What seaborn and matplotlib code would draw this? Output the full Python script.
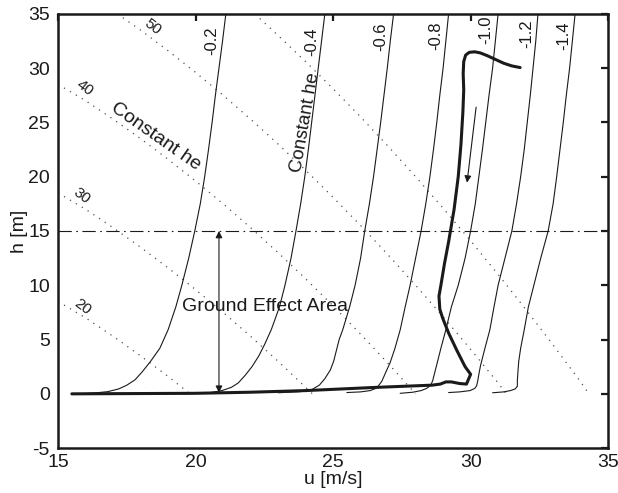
import numpy as np
import pandas as pd
import matplotlib
matplotlib.use('Agg')
import matplotlib.pyplot as plt
import seaborn as sns

sns.set_theme(style="white")
plt.rcParams['font.family'] = ['Liberation Sans', 'DejaVu Sans']
plt.rcParams['axes.unicode_minus'] = False
plt.rcParams['text.color'] = 'k'
plt.rcParams['axes.labelcolor'] = 'k'

# ------------------------------------------------------------
# DATA
# ------------------------------------------------------------
# heights used by the thin curves (bottom part differs per curve)
h_upper = [5.9, 8.0, 10.0, 12.5, 15.0, 17.5, 20.0, 22.5, 25.0, 27.5, 30.0, 32.5, 35.0]

curve_labels = ['-0.2', '-0.4', '-0.6', '-0.8', '-1.0', '-1.2', '-1.4']
curve_u = [
    [15.8, 16.4, 16.8, 17.2, 17.5, 17.8, 18.05, 18.35, 18.7,
     19.0, 19.28, 19.5, 19.75, 19.97, 20.17, 20.33, 20.47, 20.6, 20.72, 20.85, 20.98, 21.1],
    [19.5, 20.5, 20.96, 21.3, 21.55, 21.8, 22.05, 22.3, 22.5,
     22.75, 23.05, 23.25, 23.47, 23.65, 23.82, 23.97, 24.1, 24.22, 24.34, 24.46, 24.58, 24.7],
    [23.0, 23.8, 24.2, 24.5, 24.7, 24.9, 25.02, 25.12, 25.22,
     25.35, 25.6, 25.8, 26.0, 26.15, 26.32, 26.47, 26.6, 26.73, 26.85, 26.97, 27.08, 27.2],
    [25.5, 26.0, 26.35, 26.55, 26.65, 26.77, 26.9, 27.07, 27.25,
     27.44, 27.62, 27.8, 28.0, 28.2, 28.37, 28.52, 28.65, 28.77, 28.88, 29.0, 29.1, 29.2],
    [27.44, 27.9, 28.2, 28.4, 28.55, 28.62, 28.7, 28.8, 28.92,
     29.1, 29.3, 29.55, 29.8, 30.0, 30.17, 30.3, 30.43, 30.55, 30.67, 30.8, 30.9, 31.0],
    [29.2, 29.6, 29.98, 30.15, 30.22, 30.26, 30.3, 30.36, 30.5,
     30.7, 30.85, 31.0, 31.25, 31.5, 31.67, 31.82, 31.95, 32.06, 32.17, 32.27, 32.37, 32.45],
    [30.8, 31.2, 31.45, 31.62, 31.7, 31.7, 31.72, 31.75, 31.82,
     31.95, 32.1, 32.3, 32.55, 32.82, 33.0, 33.13, 33.25, 33.37, 33.48, 33.6, 33.7, 33.8],
]
curve_h_lower = [
    [0.0, 0.1, 0.2, 0.45, 0.8, 1.3, 2.0, 2.95, 4.2],
    [0.0, 0.1, 0.3, 0.6, 1.0, 1.7, 2.5, 3.5, 4.5],
    [0.1, 0.2, 0.35, 0.8, 1.4, 2.2, 3.0, 4.0, 5.0],
    [0.12, 0.18, 0.3, 0.5, 0.75, 1.15, 1.9, 2.85, 4.2],
    [0.05, 0.15, 0.3, 0.5, 0.8, 1.2, 2.0, 3.0, 4.2],
    [0.12, 0.18, 0.3, 0.5, 0.75, 1.2, 1.8, 2.6, 4.0],
    [0.1, 0.18, 0.3, 0.45, 0.7, 1.2, 2.0, 3.0, 4.2],
]
curve_label_u = [20.6, 24.24, 26.75, 28.75, 30.56, 32.05, 33.4]
curve_label_h = [32.5, 32.4, 32.9, 33.0, 33.5, 33.2, 33.0]

# dotted lines of constant he
he_values = [20, 30, 40, 50, 60]
he_u = [
    [15, 16, 17, 18, 19, 19.8],
    [15, 16, 17, 18, 19, 20, 21, 22, 23, 24.25],
    [15, 16, 17, 18, 19, 20, 21, 22, 23, 24, 25, 26, 27, 28.0],
    [17.15, 18, 19, 20, 21, 22, 23, 24, 25, 26, 27, 28, 29, 30, 31, 31.3],
    [22.15, 23, 24, 25, 26, 27, 28, 29, 30, 31, 32, 33, 34, 34.3],
]
he_h = [
    [8.5, 7.0, 5.3, 3.5, 1.6, 0.0],
    [18.5, 17.0, 15.3, 13.5, 11.6, 9.6, 7.5, 5.3, 3.0, 0.0],
    [28.5, 27.0, 25.3, 23.5, 21.6, 19.6, 17.5, 15.3, 13.0, 10.6, 8.1, 5.5, 2.8, 0.0],
    [35.0, 33.5, 31.6, 29.6, 27.5, 25.3, 23.0, 20.6, 18.1, 15.5, 12.8, 10.0, 7.1, 4.1, 1.0, 0.0],
    [35.0, 33.0, 30.6, 28.1, 25.5, 22.8, 20.0, 17.1, 14.1, 11.0, 7.8, 4.5, 1.1, 0.0],
]
he_label_text = ['50', '40', '30', '20']
he_label_u = [18.45, 15.98, 15.87, 15.9]
he_label_h = [33.8, 28.2, 18.2, 8.0]

# thick trajectory, in time order
traj_u = [31.8, 31.5, 31.2, 30.9, 30.6, 30.35, 30.15, 29.95, 29.82, 29.75, 29.73,
          29.75, 29.72, 29.65, 29.55, 29.4, 29.2, 29.05, 28.92, 28.85, 28.88, 28.98,
          29.2, 29.5, 29.8, 30.0, 29.85, 29.6, 29.3, 29.1, 28.9, 28.6, 26.6, 24.0,
          22.0, 20.0, 15.5]
traj_h = [30.05, 30.2, 30.45, 30.8, 31.15, 31.4, 31.5, 31.45, 31.2, 30.6, 29.5,
          28.0, 26.0, 23.0, 20.0, 17.0, 14.0, 12.0, 10.0, 9.0, 7.8, 7.0,
          5.6, 4.0, 2.5, 1.8, 0.9, 0.95, 1.1, 1.1, 0.9, 0.8, 0.6, 0.3,
          0.15, 0.05, 0.0]

ground_h = 15
ground_arrow_u = 20.85

# ------------------------------------------------------------
# PLOT
# ------------------------------------------------------------
fig, ax = plt.subplots(figsize=(6.18, 4.93), dpi=100)
fig.subplots_adjust(left=0.094, right=0.984, top=0.972, bottom=0.091)

for u, h in zip(he_u, he_h):
    sns.lineplot(x=u, y=h, sort=False, estimator=None, color='0.3',
                 linewidth=0.9, linestyle=(0, (1, 4.5)), ax=ax)

for u, h_low in zip(curve_u, curve_h_lower):
    sns.lineplot(x=u, y=h_low + h_upper, sort=False, estimator=None, color='k',
                 linewidth=0.8, ax=ax)

sns.lineplot(x=traj_u, y=traj_h, sort=False, estimator=None, color='k',
             linewidth=2.2, ax=ax)

ax.axhline(ground_h, color='k', linewidth=0.8, linestyle=(0, (12, 4, 1.5, 4)))

# curve labels
for lab, u, h in zip(curve_labels, curve_label_u, curve_label_h):
    ax.text(u, h, lab, rotation=90, ha='center', va='center', fontsize=12)

# he labels
for lab, u, h in zip(he_label_text, he_label_u, he_label_h):
    ax.text(u, h, lab, rotation=-37, ha='center', va='center', fontsize=11,
            rotation_mode='anchor')

ax.text(18.56, 23.7, 'Constant he', rotation=-35, ha='center', va='center',
        fontsize=14, rotation_mode='anchor')
ax.text(24.0, 25.0, 'Constant he', rotation=80, ha='center', va='center',
        fontsize=13.5, rotation_mode='anchor')

# ground effect
ax.annotate('', xy=(ground_arrow_u, 0.1), xytext=(ground_arrow_u, ground_h),
            arrowprops=dict(arrowstyle='<|-|>', color='k', lw=0.8,
                            mutation_scale=10, shrinkA=0, shrinkB=0))
ax.text(19.5, 8.0, 'Ground Effect Area', ha='left', va='center', fontsize=14)

# direction arrow
ax.annotate('', xy=(29.87, 19.45), xytext=(30.2, 26.4),
            arrowprops=dict(arrowstyle='-|>', color='k', lw=0.8,
                            mutation_scale=10, shrinkA=0, shrinkB=0))

ax.set_xlim(15, 35)
ax.set_ylim(-5, 35)
ax.set_xticks(np.arange(15, 36, 5))
ax.set_yticks(np.arange(-5, 36, 5))
ax.set_xlabel('u [m/s]', fontsize=14, labelpad=0)
ax.set_ylabel('h [m]', fontsize=14, labelpad=0)
ax.tick_params(axis='both', direction='in', length=5, width=1.6,
               top=True, right=True, labelsize=14, colors='k')
ax.tick_params(axis='x', pad=4)
ax.tick_params(axis='y', pad=6)
for sp in ax.spines.values():
    sp.set_linewidth(1.8)
    sp.set_color('k')

plt.savefig('out.png', dpi=100)
